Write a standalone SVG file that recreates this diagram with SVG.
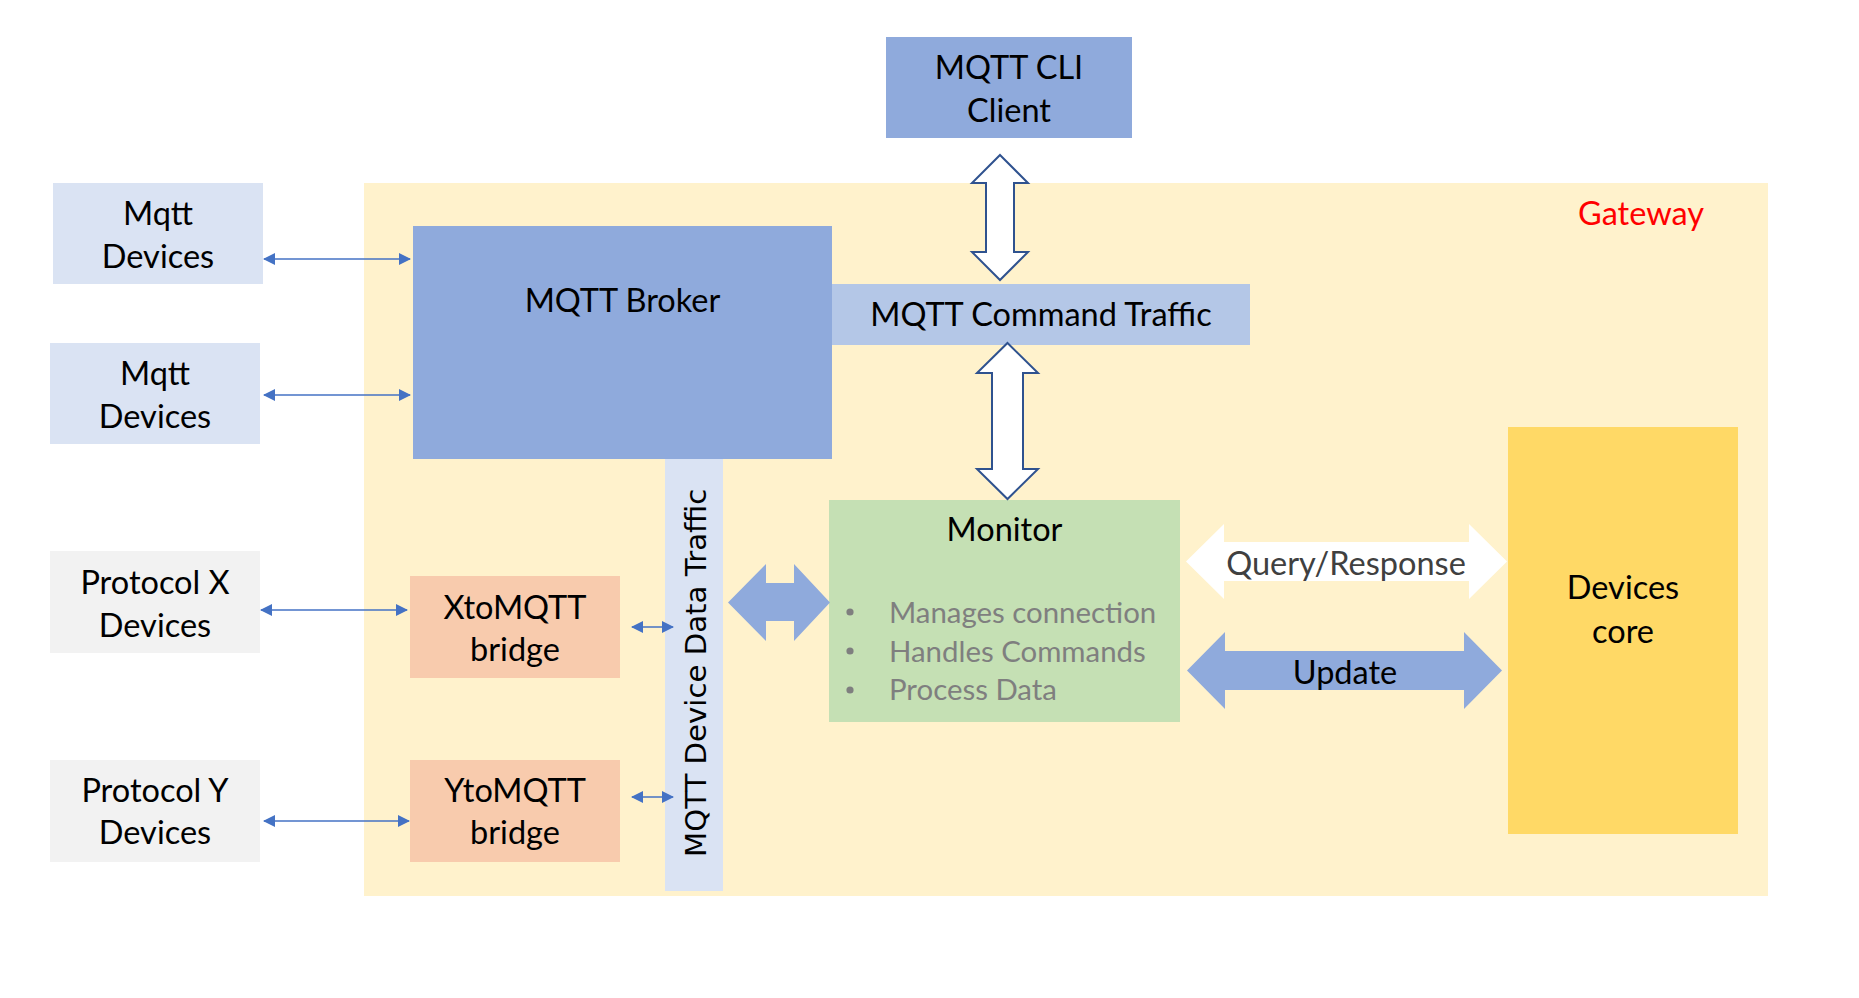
<svg xmlns="http://www.w3.org/2000/svg" width="1859" height="998" viewBox="0 0 1859 998">
<style>
.t{font-family:Lato,"Liberation Sans",sans-serif;font-size:32.5px;fill:#000;text-anchor:middle}
.b{font-family:Lato,"Liberation Sans",sans-serif;font-size:29.4px;fill:#7f7f7f}
.thin{stroke:#4472c4;stroke-width:1.6;fill:none;marker-start:url(#ah);marker-end:url(#ah)}
.hollow{fill:#fff;stroke:#2f528f;stroke-width:2}
</style>
<defs>
<marker id="ah" viewBox="0 0 12 12" refX="11" refY="6" markerWidth="12" markerHeight="12" markerUnits="userSpaceOnUse" orient="auto-start-reverse">
<path d="M0,0 L12,6 L0,12 Z" fill="#4472c4"/>
</marker>
</defs>
<rect width="1859" height="998" fill="#fff"/>
<g id="gateway">
<rect x="364" y="183" width="1404" height="713" fill="#fff2cc"/>
<text class="t" x="1641" y="225" style="fill:#ff0000">Gateway</text>
</g>
<g id="cli">
<rect x="886" y="37" width="246" height="101" fill="#8faadc"/>
<text class="t" x="1009" y="79">MQTT CLI</text>
<text class="t" x="1009" y="122">Client</text>
</g>
<g id="mqtt-devices-1">
<rect x="53" y="183" width="210" height="101" fill="#dae3f3"/>
<text class="t" x="158" y="225">Mqtt</text>
<text class="t" x="158" y="268">Devices</text>
</g>
<g id="mqtt-devices-2">
<rect x="50" y="343" width="210" height="101" fill="#dae3f3"/>
<text class="t" x="155" y="385">Mqtt</text>
<text class="t" x="155" y="428">Devices</text>
</g>
<g id="broker">
<rect x="413" y="226" width="419" height="233" fill="#8faadc"/>
<text class="t" x="622.5" y="312">MQTT Broker</text>
</g>
<g id="command-traffic">
<rect x="832" y="284" width="418" height="61" fill="#b4c7e7"/>
<text class="t" x="1041" y="326">MQTT Command Traffic</text>
</g>
<g id="data-traffic">
<rect x="665" y="459" width="58" height="432" fill="#dae3f3"/>
<text transform="translate(705.5,857) rotate(-90)" x="0" y="0" style="font-family:'DejaVu Sans',Verdana,sans-serif;font-size:29.2px;fill:#000">MQTT Device Data Traffic</text>
</g>
<g id="protocol-x">
<rect x="50" y="551" width="210" height="102" fill="#f2f2f2"/>
<text class="t" x="155" y="594">Protocol X</text>
<text class="t" x="155" y="637">Devices</text>
</g>
<g id="protocol-y">
<rect x="50" y="760" width="210" height="102" fill="#f2f2f2"/>
<text class="t" x="155" y="802">Protocol Y</text>
<text class="t" x="155" y="844">Devices</text>
</g>
<g id="x-bridge">
<rect x="410" y="576" width="210" height="102" fill="#f8cbad"/>
<text class="t" x="515" y="619">XtoMQTT</text>
<text class="t" x="515" y="661">bridge</text>
</g>
<g id="y-bridge">
<rect x="410" y="760" width="210" height="102" fill="#f8cbad"/>
<text class="t" x="515" y="802">YtoMQTT</text>
<text class="t" x="515" y="844">bridge</text>
</g>
<g id="monitor">
<rect x="829" y="500" width="351" height="222" fill="#c5e0b4"/>
<text class="t" x="1004.5" y="541">Monitor</text>
<circle cx="850" cy="612" r="3.6" fill="#7f7f7f"/>
<circle cx="850" cy="651" r="3.6" fill="#7f7f7f"/>
<circle cx="850" cy="690" r="3.6" fill="#7f7f7f"/>
<text class="b" x="889" y="623">Manages connection</text>
<text class="b" x="889" y="662">Handles Commands</text>
<text class="b" x="889" y="700">Process Data</text>
</g>
<g id="devices-core">
<rect x="1508" y="427" width="230" height="407" fill="#ffd966"/>
<text class="t" x="1623" y="599">Devices</text>
<text class="t" x="1623" y="643">core</text>
</g>
<g id="connectors">
<line class="thin" x1="264" y1="259" x2="410" y2="259"/>
<line class="thin" x1="264" y1="395" x2="410" y2="395"/>
<line class="thin" x1="261" y1="610" x2="407" y2="610"/>
<line class="thin" x1="264" y1="821" x2="409" y2="821"/>
<line class="thin" x1="632" y1="627" x2="673" y2="627"/>
<line class="thin" x1="632" y1="797" x2="673" y2="797"/>
<path class="hollow" d="M1000,155 L1028,183 L1014,183 L1014,252 L1028,252 L1000,280 L972,252 L986,252 L986,183 L972,183 Z"/>
<path class="hollow" d="M1007.5,343 L1038,373 L1023,373 L1023,469 L1038,469 L1007.5,499 L977,469 L992,469 L992,373 L977,373 Z"/>
<path d="M728,602.5 L766,564 L766,583 L794,583 L794,564 L830,602.5 L794,641 L794,621 L766,621 L766,641 Z" fill="#8faadc"/>
<path d="M1186,561.5 L1224,524 L1224,542 L1469,542 L1469,524 L1507,561.5 L1469,599 L1469,581 L1224,581 L1224,599 Z" fill="#fff"/>
<text class="t" x="1346" y="575" style="fill:#404040">Query/Response</text>
<path d="M1187,670.5 L1225,632 L1225,651 L1464,651 L1464,632 L1502,670.5 L1464,709 L1464,690 L1225,690 L1225,709 Z" fill="#8faadc"/>
<text class="t" x="1345" y="684">Update</text>
</g>
</svg>
